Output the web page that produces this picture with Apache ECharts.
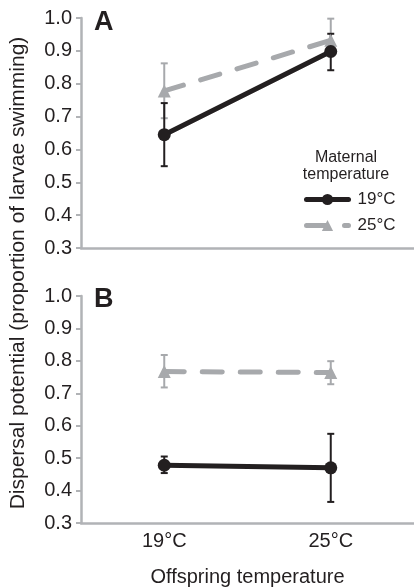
<!DOCTYPE html>
<html>
<head>
<meta charset="utf-8">
<script src="https://cdn.jsdelivr.net/npm/echarts@6/dist/echarts.min.js"></script>
<style>
html, body { margin: 0; padding: 0; background: #fff; }
#chart { width: 414px; height: 588px; }
</style>
</head>
<body>
<div id="chart"></div>
<script>
// offspring temperature categories
var categories = ['19°C', '25°C']

// panel A
var aMat19 = [0.645, 0.898]
var aMat19Low = [0.549, 0.841]
var aMat19High = [0.741, 0.952]
var aMat25 = [0.778, 0.932]
var aMat25Low = [0.695, 0.885]
var aMat25High = [0.862, 0.998]

// panel B
var bMat19 = [0.478, 0.470]
var bMat19Low = [0.454, 0.365]
var bMat19High = [0.505, 0.575]
var bMat25 = [0.767, 0.764]
var bMat25Low = [0.718, 0.728]
var bMat25High = [0.818, 0.799]

var black = '#231f20'
var gray = '#a7a9ac'
var axisGray = '#b1b3b6'
var font = 'Liberation Sans, Arial, sans-serif'

function errData (low, high) {
  return categories.map(function (c, i) { return [i, low[i], high[i]] })
}

function errSeries (name, idx, low, high, color) {
  return {
    type: 'custom',
    name: name,
    xAxisIndex: idx,
    yAxisIndex: idx,
    z: 1,
    silent: true,
    renderItem: function (params, api) {
      var lo = api.coord([api.value(0), api.value(1)])
      var hi = api.coord([api.value(0), api.value(2)])
      var hw = 3.5
      var st = { stroke: color, lineWidth: 2 }
      return {
        type: 'group',
        children: [
          { type: 'line', shape: { x1: lo[0], y1: lo[1], x2: hi[0], y2: hi[1] }, style: st },
          { type: 'line', shape: { x1: lo[0] - hw, y1: lo[1], x2: lo[0] + hw, y2: lo[1] }, style: st },
          { type: 'line', shape: { x1: hi[0] - hw, y1: hi[1], x2: hi[0] + hw, y2: hi[1] }, style: st }
        ]
      }
    },
    data: errData(low, high)
  }
}

function lineSeries (name, idx, data, color, dashed) {
  return {
    type: 'line',
    name: name,
    xAxisIndex: idx,
    yAxisIndex: idx,
    z: 3,
    data: data,
    symbol: dashed ? 'triangle' : 'circle',
    symbolSize: 13,
    itemStyle: { color: color },
    lineStyle: { color: color, width: 5, type: dashed ? [20, 18] : 'solid', cap: 'round' }
  }
}

var xAxisBase = {
  type: 'category',
  data: categories,
  axisLine: { lineStyle: { color: axisGray, width: 2.5 } },
  axisTick: { show: false },
  axisLabel: { show: false }
}

var yAxisBase = {
  type: 'value',
  min: 0.3,
  max: 1.0,
  interval: 0.1,
  axisLine: { show: true, lineStyle: { color: axisGray, width: 2.5 } },
  axisTick: { show: true, length: 5, lineStyle: { color: axisGray, width: 2 } },
  splitLine: { show: false },
  axisLabel: {
    color: '#231f20',
    fontSize: 20,
    fontFamily: font,
    margin: 9,
    formatter: function (v) { return v.toFixed(1) }
  }
}

var chart = echarts.init(document.getElementById('chart'))
chart.setOption({
  animation: false,
  backgroundColor: '#fff',
  textStyle: { fontFamily: font },
  grid: [
    { left: 81, top: 18, right: 0, height: 230 },
    { left: 81, top: 296, right: 0, height: 229 }
  ],
  xAxis: [
    Object.assign({ gridIndex: 0 }, xAxisBase),
    Object.assign({ gridIndex: 1 }, xAxisBase, {
      axisLabel: { show: true, color: '#231f20', fontSize: 20, fontFamily: font, margin: 8 },
      name: 'Offspring temperature',
      nameLocation: 'middle',
      nameGap: 44,
      nameTextStyle: { color: '#231f20', fontSize: 20, fontFamily: font }
    })
  ],
  yAxis: [
    Object.assign({ gridIndex: 0 }, yAxisBase),
    Object.assign({ gridIndex: 1 }, yAxisBase)
  ],
  legend: {
    left: 299,
    top: 186,
    orient: 'vertical',
    itemWidth: 42,
    itemHeight: 14,
    itemGap: 9,
    data: ['19°C', '25°C'],
    lineStyle: { width: 5 },
    textStyle: { color: '#231f20', fontSize: 17, fontFamily: font, padding: [0, 0, 0, 4] }
  },
  graphic: [
    { type: 'text', left: 94, top: 9, style: { text: 'A', font: 'bold 27px ' + font, fill: '#231f20' } },
    { type: 'text', left: 94, top: 286, style: { text: 'B', font: 'bold 27px ' + font, fill: '#231f20' } },
    {
      type: 'text', x: 346, y: 149,
      style: { text: 'Maternal\ntemperature', font: '16px ' + font, fill: '#231f20', align: 'center', lineHeight: 17 }
    },
    {
      type: 'text', x: 18, y: 273, rotation: Math.PI / 2,
      style: {
        text: 'Dispersal potential (proportion of larvae swimming)',
        font: '21px ' + font, fill: '#231f20', align: 'center', verticalAlign: 'middle'
      }
    }
  ],
  series: [
    errSeries('eA25', 0, aMat25Low, aMat25High, gray),
    errSeries('eA19', 0, aMat19Low, aMat19High, black),
    lineSeries('25°C', 0, aMat25, gray, true),
    lineSeries('19°C', 0, aMat19, black, false),
    errSeries('eB25', 1, bMat25Low, bMat25High, gray),
    errSeries('eB19', 1, bMat19Low, bMat19High, black),
    lineSeries('25°C', 1, bMat25, gray, true),
    lineSeries('19°C', 1, bMat19, black, false)
  ]
})
</script>
</body>
</html>
